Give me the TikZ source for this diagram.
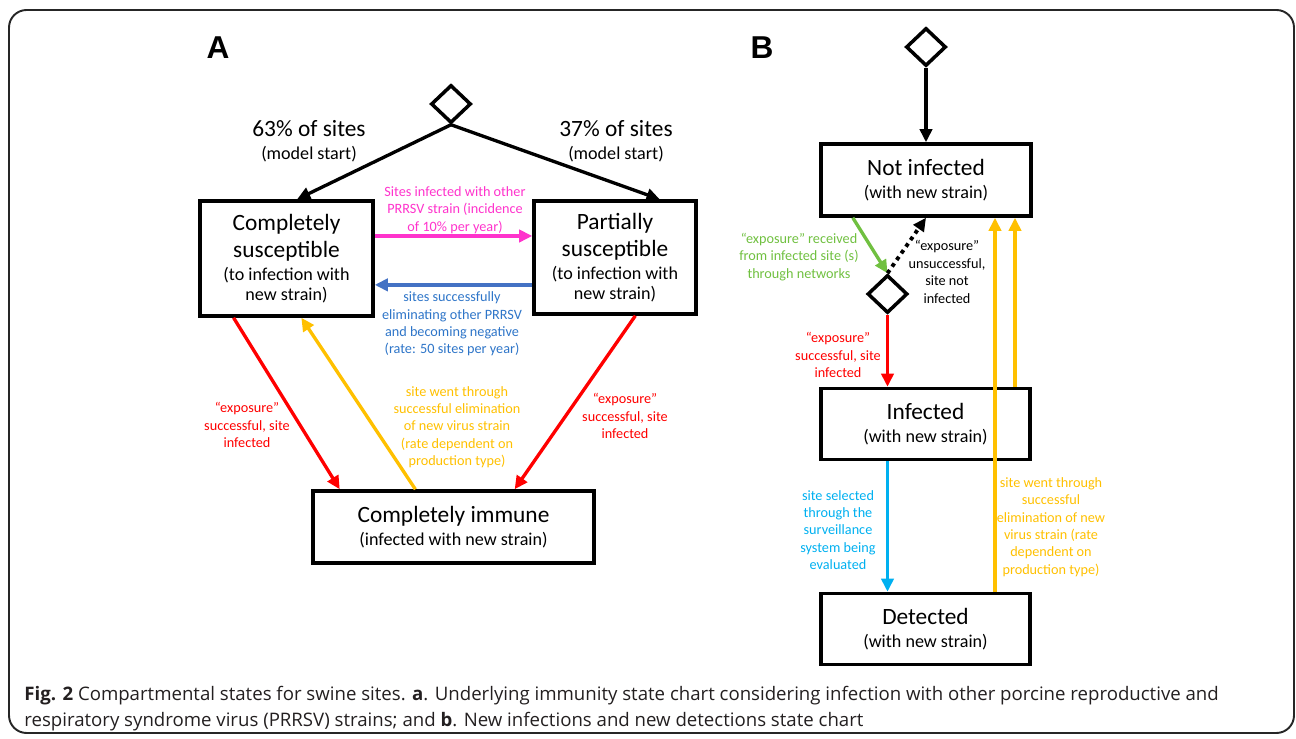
\documentclass[tikz,border=0pt]{standalone}
\usepackage{fontspec}
\setmainfont{Carlito}
\newfontfamily\arialf{Liberation Sans}
\newfontfamily\capfam{Open Sans}
\usetikzlibrary{shapes.geometric,arrows.meta,calc}
\definecolor{pinkc}{RGB}{255,51,204}
\definecolor{bluea}{RGB}{68,114,196}
\definecolor{bluet}{RGB}{46,117,200}
\definecolor{redc}{RGB}{255,0,0}
\definecolor{yelc}{RGB}{255,192,0}
\definecolor{grnc}{RGB}{112,192,64}
\definecolor{cyac}{RGB}{0,176,240}
\definecolor{capc}{RGB}{35,31,32}
\newcommand\titf{\fontsize{13.3}{15.4}\selectfont}
\newcommand\mysubf{\fontsize{10.3}{11.5}\selectfont}
\newcommand\labf{\fontsize{8.1}{9.9}\selectfont}
\newcommand\capf{\capfam\fontsize{10.6}{14.7}\selectfont}
\begin{document}
\begin{tikzpicture}[x=0.02cm,y=-0.02cm,
  box/.style={draw,line width=2pt,rectangle,inner sep=0pt,align=center,font=\titf},
  dia/.style={draw,line width=2pt,diamond,inner sep=0pt,minimum width=0.8cm,minimum height=0.76cm},
  arr/.style={line width=1.9pt,-{Triangle[length=7.5pt,width=7pt]}},
  lab/.style={align=center,font=\labf,inner sep=0pt},
  top/.style={align=center,font=\titf,inner sep=0pt},
  panel/.style={font=\arialf\bfseries\fontsize{18}{20}\selectfont,inner sep=0pt}]
\useasboundingbox (0,0) rectangle (1296,739);
\draw[line width=1.1pt,rounded corners=10pt,black!85] (9,10) rectangle (1294,733);

% ---------------- Panel A ----------------
\node[panel] (pa) at (218,48) {A};
\node[dia] (da) at (451,104) {};
\node[box,minimum width=3.46cm,minimum height=2.3cm] (cs) at (286.5,258.5)
  {Completely\\susceptible\\[-2pt]\mysubf (to infection with\\[-4.1pt]\mysubf new strain)};
\node[box,minimum width=3.24cm,minimum height=2.26cm] (ps) at (615,257.5)
  {Partially\\susceptible\\[-2pt]\mysubf (to infection with\\[-4.1pt]\mysubf new strain)};
\node[box,minimum width=5.62cm,minimum height=1.44cm] (ci) at (453.5,527)
  {Completely immune\\[-2pt]\mysubf (infected with new strain)};

\node[top] (t63) at (309,141) {63\% of sites\\[-2pt]\mysubf (model start)};
\node[top] (t37) at (616,141) {37\% of sites\\[-2pt]\mysubf (model start)};

\draw[arr] (da.south) -- ($(cs.north west)!0.56!(cs.north east)$);
\draw[arr] (da.south) -- ($(ps.north west)!0.77!(ps.north east)$);

\coordinate (pk) at ($(cs.north east)!0.31!(cs.south east)$);
\draw[arr,pinkc] (pk) -- (pk -| ps.west);
\coordinate (bl) at ($(ps.north west)!0.735!(ps.south west)$);
\draw[arr,bluea] (bl) -- (bl -| cs.east);

\draw[arr,redc] ($(cs.south west)!0.2!(cs.south east)$) -- ($(ci.north west)!0.1!(ci.north east)$);
\draw[arr,yelc] ($(ci.north west)!0.366!(ci.north east)$) -- ($(cs.south west)!0.584!(cs.south east)$);
\draw[arr,redc] ($(ps.south west)!0.623!(ps.south east)$) -- ($(ci.north west)!0.715!(ci.north east)$);

\node[lab,text=pinkc] (lpk) at (455,210) {Sites infected with other\\PRRSV strain (incidence\\of 10\% per year)};
\node[lab,text=bluet] (lbl) at (452,324) {sites successfully\\eliminating other PRRSV\\and becoming negative\\(rate: 50 sites per year)};
\node[lab,text=redc] (lr1) at (247,425) {“exposure”\\successful, site\\infected};
\node[lab,text=yelc] (ly1) at (457,427) {site went through\\successful elimination\\of new virus strain\\(rate dependent on\\production type)};
\node[lab,text=redc] (lr2) at (625,416) {“exposure”\\successful, site\\infected};

% ---------------- Panel B ----------------
\node[panel] (pb) at (762,48) {B};
\node[dia] (db) at (926,47) {};
\node[box,minimum width=4.2cm,minimum height=1.44cm] (nin) at (926,180)
  {Not infected\\[-2pt]\mysubf (with new strain)};
\node[dia] (d2) at (887.5,294) {};
\node[box,minimum width=4.18cm,minimum height=1.42cm] (inf) at (925.5,424)
  {Infected\\[-2pt]\mysubf (with new strain)};
\node[box,minimum width=4.18cm,minimum height=1.42cm] (det) at (925.5,629)
  {Detected\\[-2pt]\mysubf (with new strain)};

\draw[arr] (db.south) -- (nin.north);
\draw[arr,grnc] ($(nin.south west)!0.157!(nin.south east)$) -- (d2.north);
\draw[line width=2.2pt,dash pattern=on 2.2pt off 2.4pt,-{Triangle[length=7.5pt,width=7pt]}] (d2.north) -- (nin.south);
\draw[arr,redc] (d2.south) -- (d2.south |- inf.north);
\draw[arr,cyac] (d2.south |- inf.south) -- (d2.south |- det.north);
\coordinate (ya) at (995,0);
\coordinate (yb) at (1015,0);
\draw[arr,yelc] (ya |- det.north) -- (ya |- nin.south);
\draw[arr,yelc] (yb |- inf.north) -- (yb |- nin.south);

\node[lab,text=grnc] (lg) at (799,257) {“exposure” received\\from infected site (s)\\through networks};
\node[lab] (lk) at (947,272) {“exposure”\\unsuccessful,\\site not\\infected};
\node[lab,text=redc] (lr3) at (838,355) {“exposure”\\successful, site\\infected};
\node[lab,text=cyac] (lc) at (838,530) {site selected\\through the\\surveillance\\system being\\evaluated};
\node[lab,text=yelc] (ly2) at (1051,527) {site went through\\successful\\elimination of new\\virus strain (rate\\dependent on\\production type)};

% ---------------- Caption ----------------
\node[anchor=north west,align=left,font=\capf,text=capc,inner sep=0pt] (cap) at (24,686)
  {\textbf{Fig. 2} Compartmental states for swine sites. \textbf{a}. Underlying immunity state chart considering infection with other porcine reproductive and\\
   respiratory syndrome virus (PRRSV) strains; and \textbf{b}. New infections and new detections state chart};
\end{tikzpicture}
\end{document}
